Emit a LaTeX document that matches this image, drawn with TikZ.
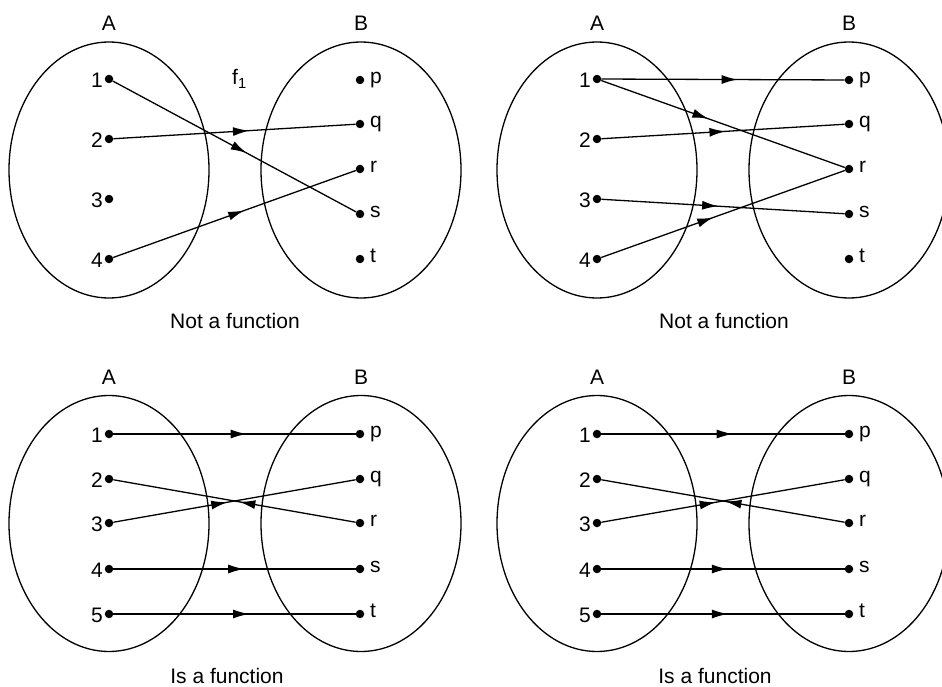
\documentclass[tikz,border=0pt]{standalone}
\usepackage{fontspec}
\setmainfont{Liberation Sans}
\usetikzlibrary{arrows.meta,decorations.markings,shapes.geometric}
\tikzset{
  setell/.style={draw,ellipse,line width=1.3pt,minimum width=200pt,minimum height=256pt,inner sep=0pt},
  pt/.style={circle,fill,inner sep=0pt,minimum size=8.5pt},
  lbl/.style={font=\fontsize{21}{24}\selectfont,inner sep=0pt},
  captxt/.style={font=\fontsize{21}{24}\selectfont,inner sep=0pt,anchor=base},
  conn/.style={line width=1.3pt},
  midarrow/.style={conn,postaction={decorate},decoration={markings,mark=at position #1 with {\arrow{Latex[length=16pt,width=9pt]}}}},
  midrev/.style={conn,postaction={decorate},decoration={markings,mark=at position #1 with {\arrowreversed{Latex[length=16pt,width=9pt]}}}}
}
\newcommand\myLpt[4]{\node[pt] (#1) at (#2,#3) {}; \node[lbl,anchor=east] (#1l) at ([xshift=-6pt,yshift=-1pt]#1.center) {#4};}
\newcommand\myRpt[4]{\node[pt] (#1) at (#2,#3) {}; \node[lbl,anchor=mid west] (#1l) at ([xshift=10pt,yshift=-1pt]#1.center) {#4};}
\begin{document}
\begin{tikzpicture}[x=1pt,y=-1pt]
\clip (0,0) rectangle (942,687);
\useasboundingbox (0,0) rectangle (942,687);
% ---------- Panel 1 ----------
\node[setell] (eA1) at (109,170) {};
\node[setell] (eB1) at (361,170) {};
\node[lbl,anchor=base] (tA1) at (109,31) {A};
\node[lbl,anchor=base] (tB1) at (361,31) {B};
\node[lbl,anchor=base west] (f1) at (232,85) {f\textsubscript{1}};
\myLpt{p1a1}{109}{79}{1}
\myLpt{p1a2}{109}{139}{2}
\myLpt{p1a3}{109}{199}{3}
\myLpt{p1a4}{109}{259}{4}
\myRpt{p1bp}{360}{80}{p}
\myRpt{p1bq}{360}{124}{q}
\myRpt{p1br}{360}{169}{r}
\myRpt{p1bs}{360}{214}{s}
\myRpt{p1bt}{360}{259}{t}
\draw[midarrow=0.55] (p1a1) -- (p1bs);
\draw[midarrow=0.56] (p1a2) -- (p1bq);
\draw[midarrow=0.54] (p1a4) -- (p1br);
\node[captxt] (c1) at (235,328) {Not a function};
% ---------- Panel 2 ----------
\node[setell] (eA2) at (597,170) {};
\node[setell] (eB2) at (849,170) {};
\node[lbl,anchor=base] (tA2) at (597,31) {A};
\node[lbl,anchor=base] (tB2) at (849,31) {B};
\myLpt{p2a1}{597}{79}{1}
\myLpt{p2a2}{597}{139}{2}
\myLpt{p2a3}{597}{199}{3}
\myLpt{p2a4}{597}{259}{4}
\myRpt{p2bp}{849}{80}{p}
\myRpt{p2bq}{849}{124}{q}
\myRpt{p2br}{849}{169}{r}
\myRpt{p2bs}{849}{214}{s}
\myRpt{p2bt}{849}{259}{t}
\draw[midarrow=0.56] (p2a1) -- (p2bp);
\draw[midarrow=0.44] (p2a1) -- (p2br);
\draw[midarrow=0.51] (p2a2) -- (p2bq);
\draw[midarrow=0.48] (p2a3) -- (p2bs);
\draw[midarrow=0.46] (p2a4) -- (p2br);
\node[captxt] (c2) at (724,328) {Not a function};
% ---------- Panel 3 ----------
\node[setell] (eA3) at (109,523.5) {};
\node[setell] (eB3) at (361,523.5) {};
\node[lbl,anchor=base] (tA3) at (109,384) {A};
\node[lbl,anchor=base] (tB3) at (361,384) {B};
\myLpt{p3a1}{109}{434}{1}
\myLpt{p3a2}{109}{479}{2}
\myLpt{p3a3}{109}{523}{3}
\myLpt{p3a4}{109}{569}{4}
\myLpt{p3a5}{109}{614}{5}
\myRpt{p3bp}{360}{434}{p}
\myRpt{p3bq}{360}{479}{q}
\myRpt{p3br}{360}{523}{r}
\myRpt{p3bs}{360}{569}{s}
\myRpt{p3bt}{360}{614}{t}
\draw[midarrow=0.55] (p3a1) -- (p3bp);
\draw[midrev=0.52] (p3a2) -- (p3br);
\draw[midarrow=0.47] (p3a3) -- (p3bq);
\draw[midarrow=0.54] (p3a4) -- (p3bs);
\draw[midarrow=0.56] (p3a5) -- (p3bt);
\node[captxt] (c3) at (227,683) {Is a function};
% ---------- Panel 4 ----------
\node[setell] (eA4) at (597,523.5) {};
\node[setell] (eB4) at (849,523.5) {};
\node[lbl,anchor=base] (tA4) at (597,384) {A};
\node[lbl,anchor=base] (tB4) at (849,384) {B};
\myLpt{p4a1}{597}{434}{1}
\myLpt{p4a2}{597}{479}{2}
\myLpt{p4a3}{597}{523}{3}
\myLpt{p4a4}{597}{569}{4}
\myLpt{p4a5}{597}{614}{5}
\myRpt{p4bp}{849}{434}{p}
\myRpt{p4bq}{849}{479}{q}
\myRpt{p4br}{849}{523}{r}
\myRpt{p4bs}{849}{569}{s}
\myRpt{p4bt}{849}{614}{t}
\draw[midarrow=0.54] (p4a1) -- (p4bp);
\draw[midrev=0.51] (p4a2) -- (p4br);
\draw[midarrow=0.47] (p4a3) -- (p4bq);
\draw[midarrow=0.52] (p4a4) -- (p4bs);
\draw[midarrow=0.52] (p4a5) -- (p4bt);
\node[captxt] (c4) at (715,683) {Is a function};
\end{tikzpicture}
\end{document}
